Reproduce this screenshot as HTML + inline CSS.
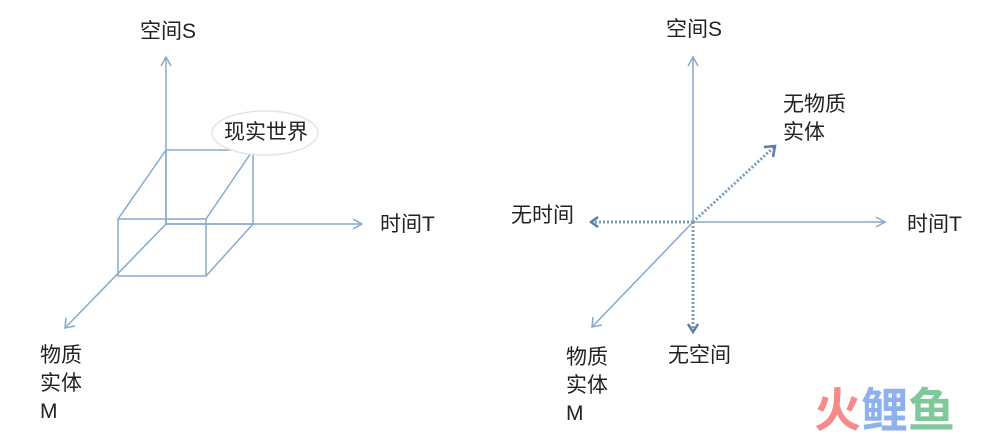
<!DOCTYPE html>
<html><head><meta charset="utf-8"><style>
body{margin:0;width:983px;height:439px;background:#fff;overflow:hidden;position:relative;font-family:"Liberation Sans","Noto Sans CJK SC",sans-serif;}
.t{position:absolute;font-size:21px;color:#222;line-height:28px;white-space:nowrap;}
</style></head><body>
<svg width="983" height="439" style="position:absolute;left:0;top:0">
<g stroke="#86aace" stroke-width="1.5" fill="none">
<line x1="166" y1="58" x2="166" y2="224"/><polyline points="161,66 166,57 171,66"/>
<line x1="166" y1="224" x2="362" y2="224"/><polyline points="353,219 362,224 353,229"/>
<line x1="166" y1="224" x2="65" y2="328"/><polyline points="66,318 65,328 75,326"/>
<rect x="166" y="150" width="87" height="74"/>
<rect x="118" y="219" width="88" height="57"/>
<line x1="166" y1="150" x2="118" y2="219"/><line x1="253" y1="150" x2="206" y2="219"/><line x1="253" y1="224" x2="206" y2="276"/>
<line x1="693" y1="58" x2="693" y2="222"/><polyline points="688,66 693,57 698,66"/>
<line x1="693" y1="222" x2="885" y2="222"/><polyline points="876,217 885,222 876,227"/>
<line x1="693" y1="222" x2="592" y2="327"/><polyline points="593,317 592,327 602,325"/>
</g>
<g stroke="#7a9cbd" stroke-width="3" stroke-dasharray="2,2" fill="none">
<line x1="693" y1="222" x2="592" y2="222"/><line x1="693" y1="222" x2="693" y2="330"/><line x1="693" y1="222" x2="774" y2="147"/>
</g>
<g stroke="#5a7fa3" stroke-width="2.5" fill="none">
<polyline points="598,217 591,222 598,227"/><polyline points="688,324 693,332 698,324"/><polyline points="764,147 775,146 773,157"/>
</g>
<ellipse cx="265" cy="133" rx="53" ry="22" fill="#fff" stroke="#e4e4e4" stroke-width="1.5"/>
</svg>
<div class="t" style="left:140px;top:18px">空间S</div>
<div class="t" style="left:224px;top:119px">现实世界</div>
<div class="t" style="left:380px;top:211px">时间T</div>
<div class="t" style="left:40px;top:342px">物质<br>实体<br>M</div>
<div class="t" style="left:666px;top:16px">空间S</div>
<div class="t" style="left:783px;top:91px">无物质<br>实体</div>
<div class="t" style="left:511px;top:202px">无时间</div>
<div class="t" style="left:907px;top:211px">时间T</div>
<div class="t" style="left:566px;top:344px">物质<br>实体<br>M</div>
<div class="t" style="left:668px;top:342px">无空间</div>
<div style="position:absolute;left:814px;top:386px;font-size:47px;font-weight:bold;line-height:50px;white-space:nowrap"><span style="color:#f58a8a">火</span><span style="color:#8fb0ee">鲤</span><span style="color:#7fc89a">鱼</span></div>
</body></html>
